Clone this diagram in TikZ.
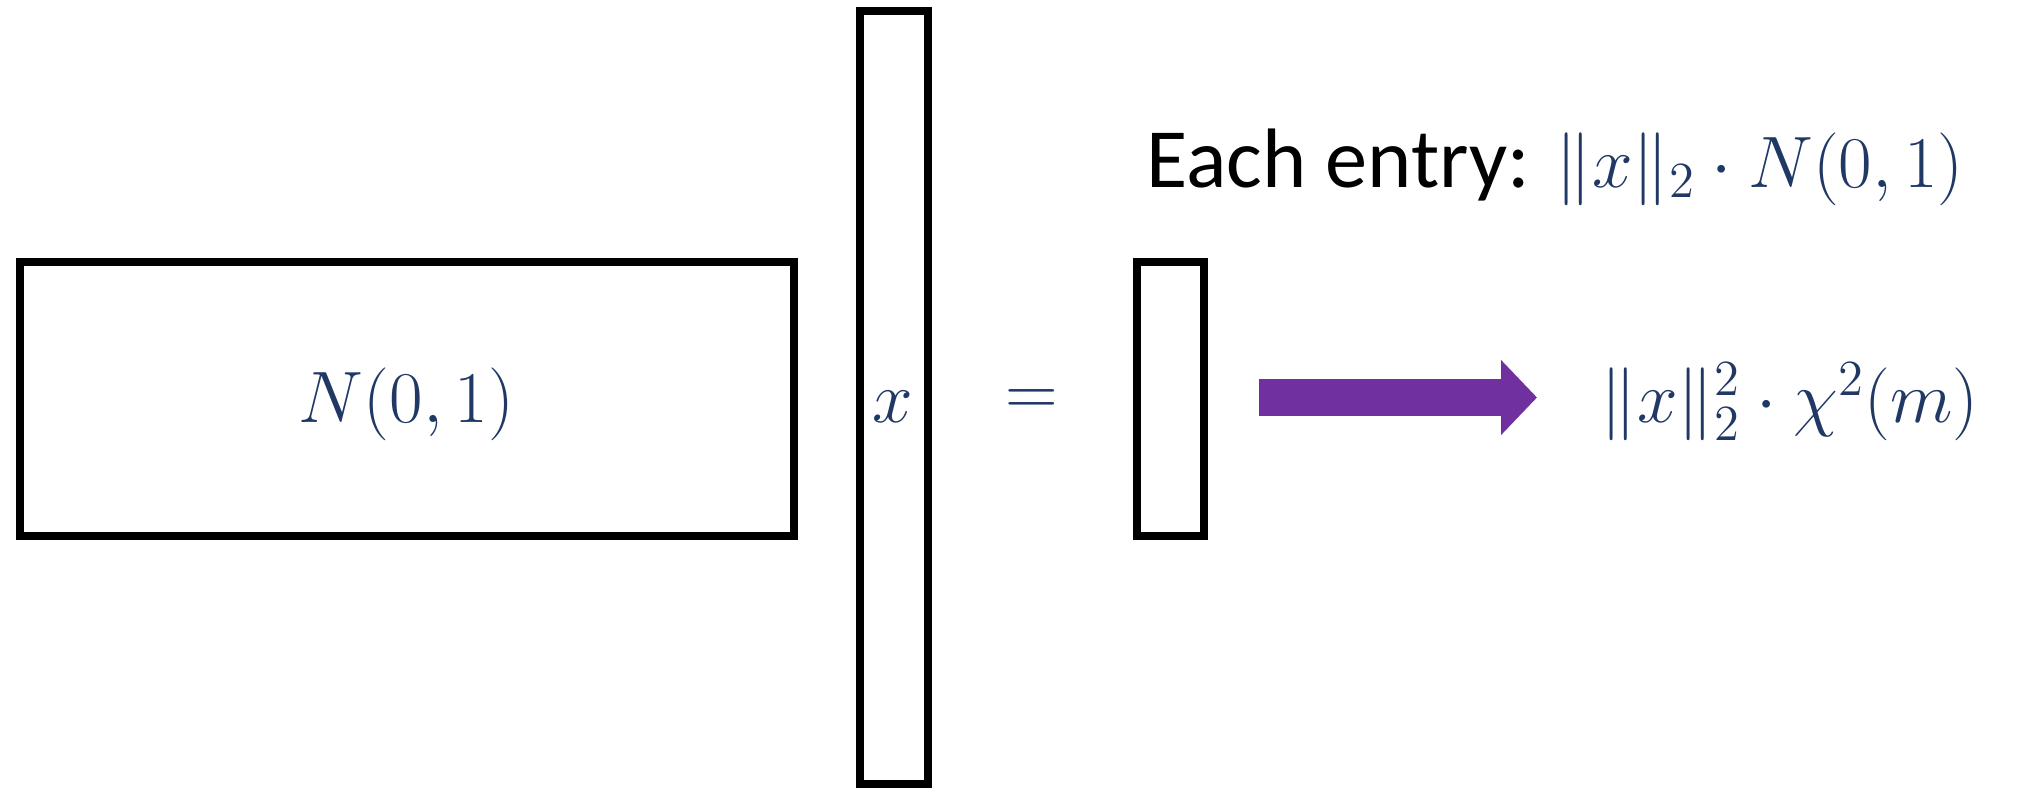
\documentclass[tikz,border=0pt]{standalone}
\usepackage{amsmath,amssymb}
\usepackage{fontspec}
\setmainfont{Carlito}
\usetikzlibrary{arrows.meta,positioning}
\definecolor{mathnavy}{RGB}{31,56,100}
\definecolor{arrowpurple}{RGB}{112,48,160}
\tikzset{
  blockbox/.style={draw, line width=0.08cm, inner sep=0pt},
  mathlabel/.style={text=mathnavy, font=\fontsize{22}{26}\selectfont, inner sep=0pt},
  fatarrow/.style={arrowpurple, line width=0.37cm, -{Triangle[width=0.73cm,length=0.36cm]}}
}

\begin{document}
\begin{tikzpicture}
            \useasboundingbox (0,0) rectangle (20.24,7.9);

            % Random Gaussian matrix
            \node[blockbox, minimum width=7.74cm, minimum height=2.74cm] (gauss) at (4.066,3.912) {};
            \node[mathlabel, anchor=base] (gausslbl) at (4.066,3.68) {$N(0,1)$};

            % Tall vector x
            \node[blockbox, minimum width=0.68cm, minimum height=7.73cm] (vecx) at (8.94,3.93) {};
            \node[mathlabel, anchor=base] (vecxlbl) at (8.93,3.68) {$x$};

            % Equals sign
            \node[mathlabel] (equals) at (10.32,3.87) {$=$};

            % Result vector
            \node[blockbox, minimum width=0.67cm, minimum height=2.74cm] (result) at (11.705,3.912) {};

            % Per-entry distribution
            \node[anchor=base west, inner sep=0pt, font=\fontsize{24}{28}\selectfont] (entry) at (11.46,6.03)
                {Each entry: \textcolor{mathnavy}{\fontsize{20}{24}\selectfont$\lVert x\rVert_2\cdot N(0,1)$}};

            % Norm distribution
            \node[mathlabel, anchor=base west] (chisq) at (16.0,3.68) {$\lVert x\rVert_2^2\cdot \chi^2(m)$};

            % Big arrow
            \draw[fatarrow] ([xshift=0.51cm,yshift=0.013cm]result.east) -- ([xshift=-0.63cm]chisq.west |- 0,3.925);
        \end{tikzpicture}
\end{document}
